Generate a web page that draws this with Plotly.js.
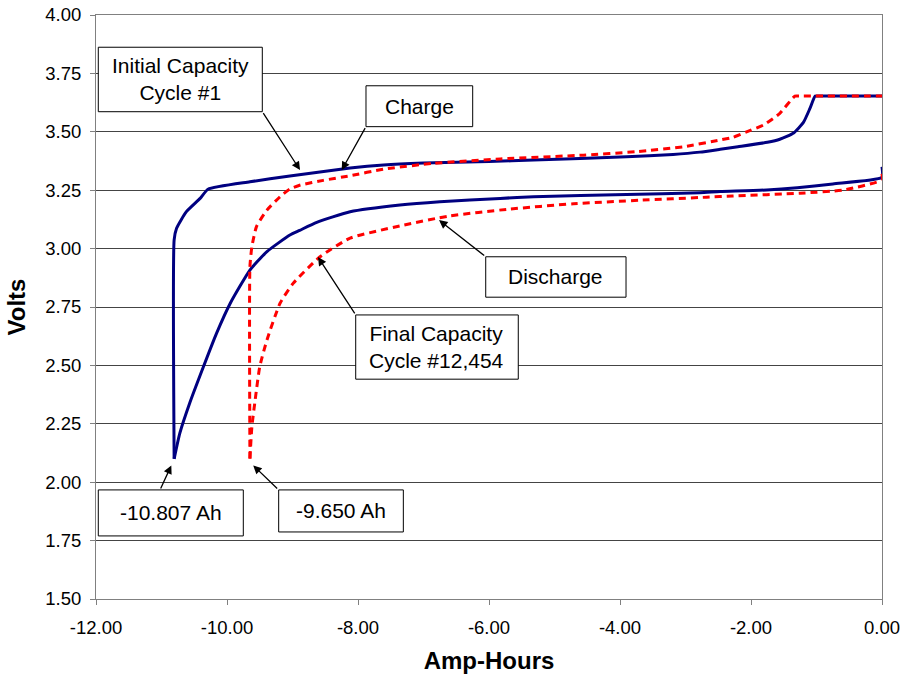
<!DOCTYPE html>
<html>
<head>
<meta charset="utf-8">
<script src="https://cdn.plot.ly/plotly-3.0.1.min.js"></script>
<style>
  html, body { margin: 0; padding: 0; background: #fff; }
  #chart { width: 902px; height: 681px; }
</style>
</head>
<body>
<div id="chart"></div>
<script>
// Cycle #1 (initial capacity): discharge from 0 Ah down to -10.807 Ah, then recharge
const initDischargeAh = [0, 0, -0.75, -1.76, -2.47, -2.78, -3.90, -5.32, -5.83, -6.75, -7.36, -8.12, -8.63, -8.89, -9.04, -9.39, -9.65, -9.95, -10.16, -10.36, -10.57, -10.72, -10.807];
const initDischargeV  = [3.35, 3.305, 3.277, 3.251, 3.244, 3.239, 3.232, 3.222, 3.215, 3.201, 3.187, 3.158, 3.112, 3.078, 3.058, 2.987, 2.908, 2.766, 2.637, 2.494, 2.338, 2.21, 2.10];
const initChargeAh = [-10.807, -10.807, -10.77, -10.62, -10.41, -10.29, -9.65, -9.04, -8.12, -7.61, -7.00, -6.00, -5.32, -3.90, -3.19, -2.78, -2.47, -2.20, -1.75, -1.56, -1.35, -1.20, -1.10, -1.02, -0.96, 0];
const initChargeV  = [2.10, 3.037, 3.087, 3.158, 3.215, 3.254, 3.286, 3.311, 3.345, 3.358, 3.366, 3.373, 3.379, 3.393, 3.403, 3.413, 3.425, 3.436, 3.455, 3.468, 3.495, 3.54, 3.60, 3.653, 3.653, 3.653];

// Cycle #12,454 (final capacity): discharge down to -9.650 Ah, then recharge
const finalDischargeAh = [0, 0, -0.59, -1.25, -2.28, -2.68, -3.70, -4.71, -5.73, -6.60, -7.36, -8.12, -8.58, -8.99, -9.19, -9.39, -9.50, -9.57, -9.62, -9.650];
const finalDischargeV  = [3.32, 3.294, 3.251, 3.237, 3.225, 3.22, 3.207, 3.192, 3.168, 3.14, 3.097, 3.045, 2.965, 2.851, 2.766, 2.609, 2.494, 2.352, 2.238, 2.10];
const finalChargeAh = [-9.650, -9.650, -9.62, -9.55, -9.39, -9.19, -9.04, -8.88, -8.53, -8.12, -7.61, -6.85, -5.83, -4.56, -3.75, -3.03, -2.47, -2.28, -2.02, -1.81, -1.56, -1.33, -1.27, 0];
const finalChargeV  = [2.10, 2.922, 3.008, 3.094, 3.165, 3.222, 3.255, 3.272, 3.292, 3.312, 3.340, 3.365, 3.384, 3.40, 3.415, 3.436, 3.465, 3.476, 3.505, 3.529, 3.579, 3.653, 3.653, 3.653];

const xTickVals = [-12, -10, -8, -6, -4, -2, 0];
const xTickText = ['-12.00', '-10.00', '-8.00', '-6.00', '-4.00', '-2.00', '0.00'];
const yTickVals = [1.5, 1.75, 2.0, 2.25, 2.5, 2.75, 3.0, 3.25, 3.5, 3.75, 4.0];
const yTickText = ['1.50', '1.75', '2.00', '2.25', '2.50', '2.75', '3.00', '3.25', '3.50', '3.75', '4.00'];

const FONT = 'Liberation Sans, Arial, sans-serif';
const NAVY = '#000080';
const RED = '#ff0000';

const blueLine = { color: NAVY, width: 3, shape: 'spline', smoothing: 0.5 };
const redLine = { color: RED, width: 3, dash: '7px,5px', shape: 'spline', smoothing: 0.5 };

const traces = [
  { x: initDischargeAh, y: initDischargeV, mode: 'lines', line: blueLine, hoverinfo: 'skip' },
  { x: initChargeAh, y: initChargeV, mode: 'lines', line: blueLine, hoverinfo: 'skip' },
  { x: finalDischargeAh, y: finalDischargeV, mode: 'lines', line: redLine, hoverinfo: 'skip' },
  { x: finalChargeAh, y: finalChargeV, mode: 'lines', line: redLine, hoverinfo: 'skip' }
];

// Callout boxes: [x0, x1, yTop, yBottom, text]
const callouts = [
  [-11.965, -9.461, 3.862, 3.586, 'Initial Capacity<br>Cycle #1'],
  [-7.878, -6.249, 3.697, 3.522, 'Charge'],
  [-6.050, -3.908, 2.965, 2.792, 'Discharge'],
  [-8.035, -5.553, 2.716, 2.441, 'Final Capacity<br>Cycle #12,454'],
  [-11.965, -9.751, 1.967, 1.770, '-10.807 Ah'],
  [-9.211, -7.308, 1.967, 1.787, '-9.650 Ah']
];

// Leader arrows: [tailX, tailY, headX, headY]
const leaders = [
  [-9.461, 3.586, -8.885, 3.336],
  [-7.878, 3.522, -8.249, 3.336],
  [-6.050, 2.965, -6.763, 3.122],
  [-8.035, 2.716, -8.611, 2.964],
  [-11.023, 1.967, -10.850, 2.072],
  [-9.211, 1.967, -9.600, 2.072]
];

const shapes = callouts.map(c => ({
  type: 'rect', xref: 'x', yref: 'y', layer: 'above',
  x0: c[0], x1: c[1], y0: c[3], y1: c[2],
  fillcolor: '#ffffff', line: { color: '#000000', width: 1 }
}));

const annotations = callouts.map(c => ({
  xref: 'x', yref: 'y', x: (c[0] + c[1]) / 2, y: (c[2] + c[3]) / 2,
  text: c[4], showarrow: false, xanchor: 'center', yanchor: 'middle',
  font: { family: FONT, size: 21, color: '#000' }
})).concat(leaders.map(a => ({
  xref: 'x', yref: 'y', axref: 'x', ayref: 'y',
  x: a[2], y: a[3], ax: a[0], ay: a[1], text: '',
  showarrow: true, arrowhead: 2, arrowsize: 1.3, arrowwidth: 1.3, arrowcolor: '#000'
})));

const layout = {
  width: 902, height: 681,
  margin: { l: 96, r: 20, t: 15, b: 82 },
  paper_bgcolor: '#fff', plot_bgcolor: '#fff',
  showlegend: false,
  font: { family: FONT, color: '#000' },
  xaxis: {
    range: [-12, 0], tickvals: xTickVals, ticktext: xTickText,
    showgrid: false, zeroline: false,
    showline: true, linecolor: '#808080', linewidth: 1, mirror: true,
    ticks: 'outside', ticklen: 5, tickcolor: '#808080',
    ticklabelstandoff: 7,
    tickfont: { family: FONT, size: 18.5, color: '#000' },
    title: { text: '<b>Amp-Hours</b>', font: { family: FONT, size: 24, color: '#000' }, standoff: 14 }
  },
  yaxis: {
    range: [1.5, 4.0], tickvals: yTickVals, ticktext: yTickText,
    showgrid: true, gridcolor: '#444', gridwidth: 1, zeroline: false,
    showline: true, linecolor: '#808080', linewidth: 1, mirror: true,
    ticks: 'outside', ticklen: 5, tickcolor: '#808080',
    ticklabelstandoff: 5,
    tickfont: { family: FONT, size: 18.5, color: '#000' },
    title: { text: '<b>Volts</b>', font: { family: FONT, size: 24, color: '#000' }, standoff: 12 }
  },
  shapes: shapes,
  annotations: annotations
};

Plotly.newPlot('chart', traces, layout, { displayModeBar: false, staticPlot: true });
</script>
</body>
</html>
